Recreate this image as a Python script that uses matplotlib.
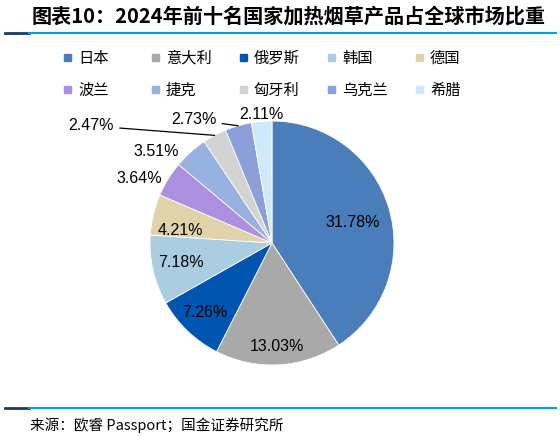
import matplotlib
matplotlib.use('Agg')
from matplotlib import pyplot as plt
from matplotlib.patches import Rectangle
from matplotlib.lines import Line2D
import numpy as np

plt.rcParams['font.family'] = ['Noto Sans CJK SC', 'DejaVu Sans']

# 数据
countries = ['日本', '意大利', '俄罗斯', '韩国', '德国', '波兰', '捷克', '匈牙利', '乌克兰', '希腊']
shares = [31.78, 13.03, 7.26, 7.18, 4.21, 3.64, 3.51, 2.47, 2.73, 2.11]
colors = ['#4a7ebb', '#a9a9a9', '#0055b0', '#aacde2', '#e0d3aa',
          '#ad8fdf', '#97b2e0', '#d3d3d3', '#8c9fd9', '#cfe9fb']

title = '图表10：2024年前十名国家加热烟草产品占全球市场比重'
source = '来源：欧睿 Passport；国金证券研究所'

W, H = 560, 436
fig = plt.figure(figsize=(W / 100, H / 100), dpi=100)

def fx(px):
    return px / W

def fy(py):
    return 1 - py / H

# 饼图 (中心と半径はピクセル)
cx, cy, R = 272, 243, 122
ax = fig.add_axes([0, 0, 1, 1])
wedges, _ = ax.pie(shares, colors=colors, startangle=90, counterclock=False,
                   radius=1, wedgeprops=dict(edgecolor='white', linewidth=0.6))
ax.set_aspect('auto')
ax.set_xlim(-cx / R, (W - cx) / R)
ax.set_ylim(-(H - cy) / R, cy / R)
ax.axis('off')

# ラベル位置 (pie単位)
label_xy = [(0.66, 0.17), (0.04, -0.85), (-0.55, -0.57), (-0.75, -0.16), (-0.75, 0.10),
            (-1.09, 0.53), (-0.95, 0.75), (-1.48, 0.96), (-0.64, 1.01), (-0.09, 1.05)]
leader = [False] * 7 + [True, True, False]

for w, v, (lx, ly), ld in zip(wedges, shares, label_xy, leader):
    txt = '%.2f%%' % v
    if ld:
        mid = np.deg2rad((w.theta1 + w.theta2) / 2)
        ax.annotate(txt, xy=(np.cos(mid), np.sin(mid)), xytext=(lx, ly),
                    ha='center', va='center', fontsize=11.5, family='Liberation Sans',
                    arrowprops=dict(arrowstyle='-', color='black', lw=0.9,
                                    shrinkA=2, shrinkB=0))
    else:
        ax.text(lx, ly, txt, ha='center', va='center', fontsize=11.5,
                family='Liberation Sans')

# タイトルと線
fig.text(fx(32), fy(16), title, ha='left', va='center', fontsize=14.5, fontweight='bold')
for yy in [33, 408]:
    fig.add_artist(Line2D([fx(5), fx(29)], [fy(yy), fy(yy)], color='#1f3b57', lw=2))
    fig.add_artist(Line2D([fx(29), fx(556)], [fy(yy), fy(yy)], color='#00a0e9', lw=1.5))
fig.text(fx(30), fy(425), source, ha='left', va='center', fontsize=10.5)

# 凡例
leg_x = [64, 152, 240, 328, 416]
leg_y = [58, 90]
for i, (name, c) in enumerate(zip(countries, colors)):
    x0 = leg_x[i % 5]
    y0 = leg_y[i // 5]
    fig.add_artist(Rectangle((fx(x0), fy(y0 + 3.5)), 7 / W, 7 / H, color=c,
                             transform=fig.transFigure))
    fig.text(fx(x0 + 14), fy(y0), name, ha='left', va='center', fontsize=11)

plt.savefig('out.png', dpi=100)
